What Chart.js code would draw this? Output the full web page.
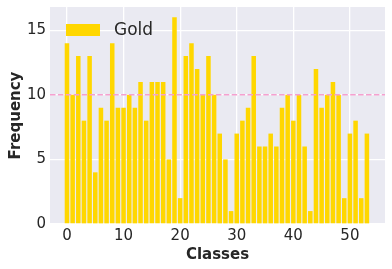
<!DOCTYPE html>
<html>
<head>
<meta charset="utf-8">
<script src="https://cdn.jsdelivr.net/npm/chart.js@4.4.1/dist/chart.umd.min.js"></script>
<style>
  html, body { margin: 0; padding: 0; background: #fff; }
  #wrap { width: 392px; height: 269px; }
</style>
</head>
<body>
<div id="wrap"><canvas id="chart" width="392" height="269"></canvas></div>
<script>
// frequency per class
const counts = [14, 10, 13, 8, 13, 4, 9, 8, 14, 9,
  9, 10, 9, 11, 8, 11, 11, 11, 5, 16,
  2, 13, 14, 12, 10, 13, 10, 7, 5, 1,
  7, 8, 9, 13, 6, 6, 7, 6, 9, 10,
  8, 10, 6, 1, 12, 9, 10, 11, 10, 2,
  7, 8, 2, 7];
const classes = counts.map((_, i) => i);
const meanLine = 10;
const xTicks = [0, 10, 20, 30, 40, 50];
const yTicks = [0, 5, 10, 15];
const xMin = -3, xMax = 56.2;
const yMax = 16.8;

const textColor = "#262626";
const font = "DejaVu Sans";

const plotBg = {
  id: "plotBg",
  beforeDraw: (chart) => {
    const { ctx, chartArea: a } = chart;
    ctx.save();
    ctx.fillStyle = "#eaeaf2";
    ctx.fillRect(a.left, a.top, a.right - a.left, a.bottom - a.top);
    ctx.restore();
  },
};

// legend drawn inside the plot, like matplotlib's
const innerLegend = {
  id: "innerLegend",
  afterDraw: (chart) => {
    const { ctx, chartArea: a } = chart;
    const ds = chart.data.datasets[0];
    ctx.save();
    ctx.fillStyle = ds.backgroundColor;
    ctx.fillRect(a.left + 16, a.top + 17, 34, 12);
    ctx.fillStyle = textColor;
    ctx.font = "17px '" + font + "'";
    ctx.textBaseline = "middle";
    ctx.fillText(ds.label, a.left + 64, a.top + 24);
    ctx.restore();
  },
};

const config = {
  type: "bar",
  data: {
    datasets: [
      {
        label: "Gold",
        data: classes.map((c, i) => ({ x: c, y: counts[i] })),
        backgroundColor: "#ffd700",
        borderWidth: 0,
        barPercentage: 0.8,
        categoryPercentage: 1.0,
        order: 2,
      },
      {
        type: "line",
        label: "mean",
        data: [{ x: xMin, y: meanLine }, { x: xMax, y: meanLine }],
        borderColor: "#f5a0cf",
        borderWidth: 1.5,
        borderDash: [5.5, 2.4],
        pointRadius: 0,
        fill: false,
        order: 1,
      },
    ],
  },
  plugins: [plotBg, innerLegend],
  options: {
    responsive: false,
    animation: false,
    layout: { padding: { top: 7, right: 7, left: 0, bottom: 0 } },
    plugins: {
      legend: { display: false },
      tooltip: { enabled: false },
    },
    scales: {
      x: {
        type: "linear",
        offset: false,
        min: xMin,
        max: xMax,
        afterBuildTicks: (scale) => {
          scale.ticks = xTicks.map((v) => ({ value: v }));
        },
        afterFit: (scale) => {
          scale.height = 45;
          scale.paddingLeft = 0;
          scale.paddingRight = 0;
        },
        ticks: {
          color: textColor,
          font: { family: font, size: 15 },
          padding: 3,
          maxRotation: 0,
        },
        grid: { color: "#ffffff", lineWidth: 1.3, drawTicks: false, offset: false },
        border: { display: false },
        title: {
          display: true,
          text: "Classes",
          color: textColor,
          font: { family: font, size: 15, weight: "bold" },
          padding: { top: 0, bottom: 5 },
        },
      },
      y: {
        min: 0,
        max: yMax,
        afterBuildTicks: (scale) => {
          scale.ticks = yTicks.map((v) => ({ value: v }));
        },
        afterFit: (scale) => {
          scale.width = 50;
          scale.paddingTop = 0;
          scale.paddingBottom = 0;
        },
        ticks: {
          color: textColor,
          font: { family: font, size: 15 },
          padding: 4,
        },
        grid: { color: "#ffffff", lineWidth: 1.3, drawTicks: false },
        border: { display: false },
        title: {
          display: true,
          text: "Frequency",
          color: textColor,
          font: { family: font, size: 15, weight: "bold" },
          padding: { top: 7, bottom: 0 },
        },
      },
    },
  },
};

new Chart(document.getElementById("chart"), config);
</script>
</body>
</html>
